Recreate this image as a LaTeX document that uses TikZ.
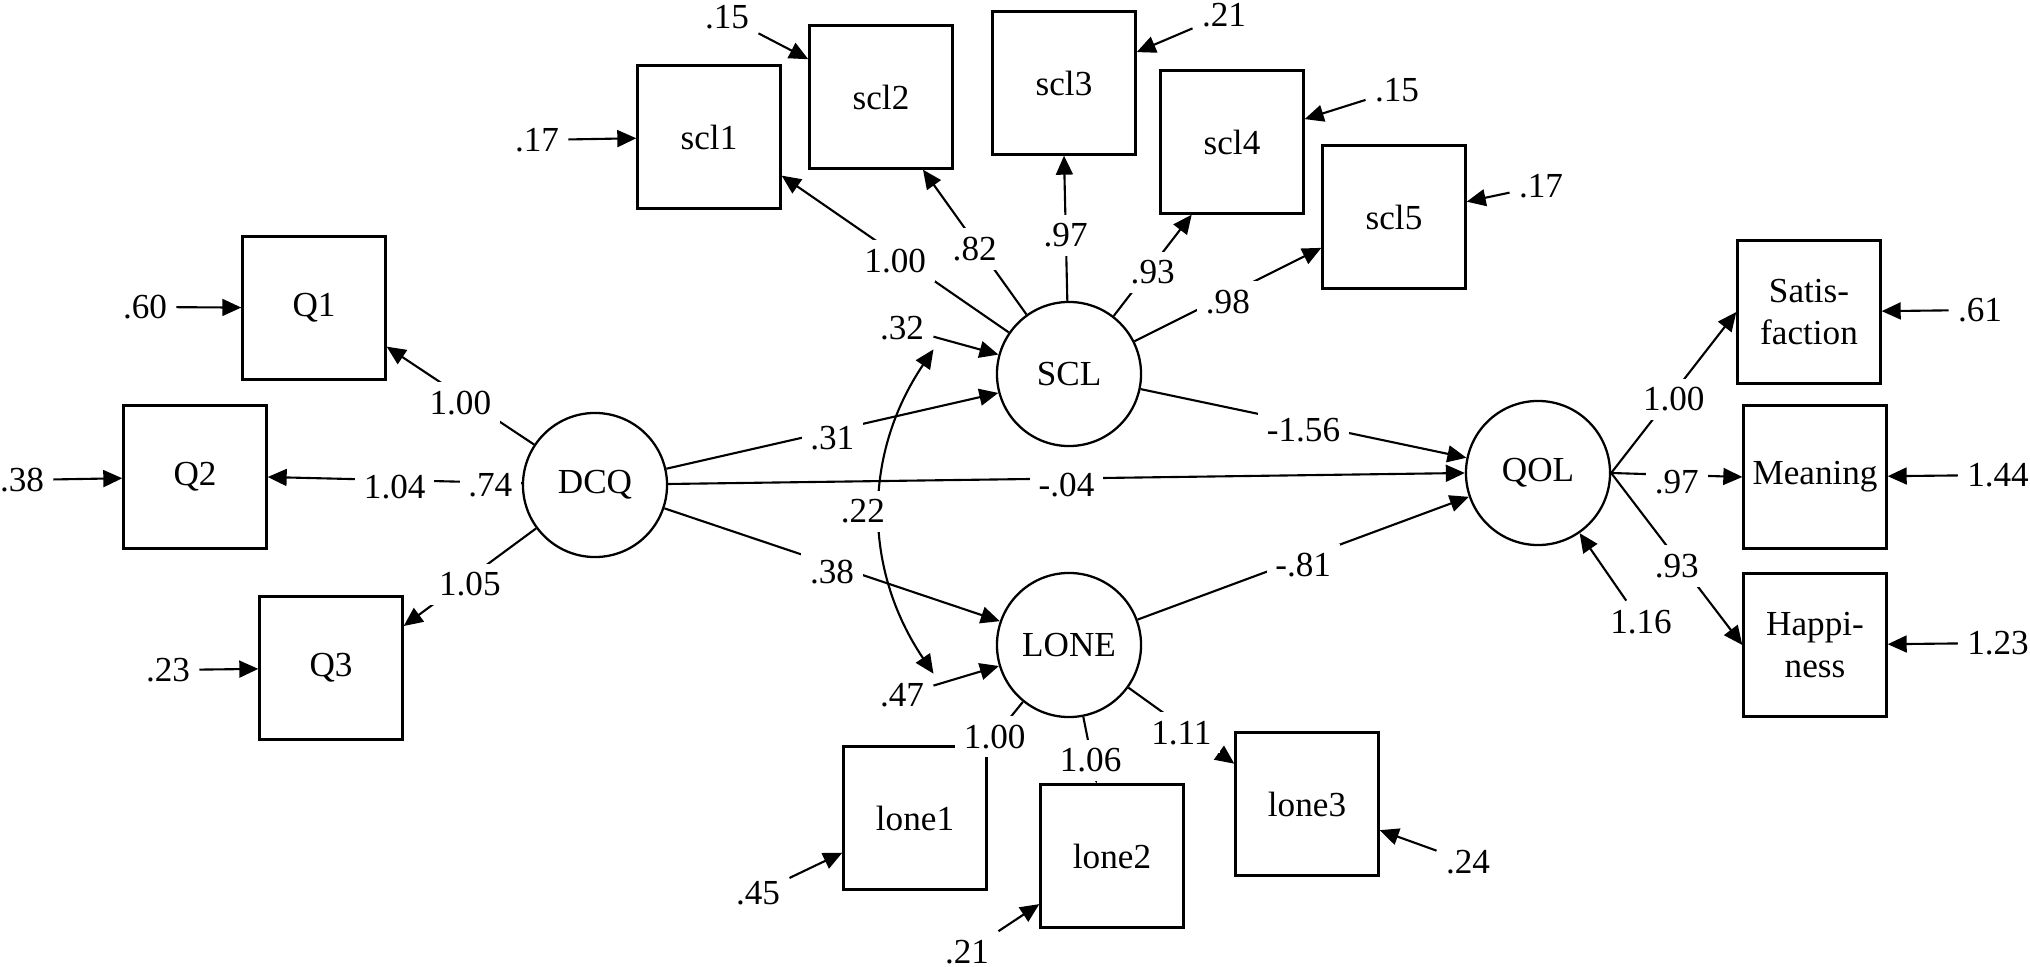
\documentclass[tikz,border=0pt]{standalone}
\usepackage{fontspec}
\setmainfont{Liberation Serif}
\usetikzlibrary{arrows.meta,positioning,calc}
\tikzset{
  obs/.style={draw=black, line width=0.65pt, minimum width=1.43cm, minimum height=1.43cm, inner sep=1pt, align=center},
  lat/.style={draw=black, circle, line width=0.65pt, minimum size=1.44cm, inner sep=0pt},
  lbl/.style={fill=white, inner sep=2.5pt},
  ld/.style={lbl, yshift=-2pt},
  arrow/.style={-{Triangle[length=5.4pt,width=4.8pt]}, line width=0.6pt},
  covarrow/.style={{Triangle[length=5.4pt,width=4.8pt]}-{Triangle[length=5.4pt,width=4.8pt]}, line width=0.6pt},
}

\begin{document}
\begin{tikzpicture}[x=0.01cm,y=-0.01cm,font=\fontsize{10}{12}\selectfont]
  \useasboundingbox (0,0) rectangle (2030,967);
  \node[lat] (DCQ) at (595,485) {DCQ};
  \node[lat] (SCL) at (1069,374) {SCL};
  \node[lat] (LONE) at (1069,645) {LONE};
  \node[lat] (QOL) at (1538,473) {QOL};
  \node[obs] (Q1) at (314,308) {Q1};
  \node[obs] (Q2) at (195,477) {Q2};
  \node[obs] (Q3) at (331,668) {Q3};
  \node[obs] (scl1) at (709,137) {scl1};
  \node[obs] (scl2) at (881,97) {scl2};
  \node[obs] (scl3) at (1064,83) {scl3};
  \node[obs] (scl4) at (1232,142) {scl4};
  \node[obs] (scl5) at (1394,217) {scl5};
  \node[obs] (lone1) at (915,818) {lone1};
  \node[obs] (lone2) at (1112,856) {lone2};
  \node[obs] (lone3) at (1307,804) {lone3};
  \node[obs] (Satis) at (1809,312) {Satis-\\faction};
  \node[obs] (Mean) at (1815,477) {Meaning};
  \node[obs] (Happy) at (1815,645) {Happi-\\ness};

  \foreach \val/\tgt/\x/\y in {.60/Q1/145/307, .38/Q2/22/480, .23/Q3/168/670,
      .17/scl1/537/140, .15/scl2/727/17, .21/scl3/1224/15, .15/scl4/1397/90,
      .17/scl5/1541/186, .32/SCL/902/328, .47/LONE/902/695, .45/lone1/758/893,
      .21/lone2/967/952, .24/lone3/1468/862, 1.16/QOL/1641/622,
      .61/Satis/1980/310, 1.44/Mean/1998/475, 1.23/Happy/1998/643}{
    \node[lbl] (e\tgt) at (\x,\y) {\val};
    \draw[arrow] (e\tgt) -- (\tgt);
  }

  \draw[arrow] (DCQ) -- node[ld]{1.00} (Q1.-28);
  \draw[arrow] (DCQ) -- node[ld]{1.04} (Q2.east);
  \draw[arrow] (DCQ) -- node[ld]{1.05} (Q3.30);
  \foreach \tgt/\w in {scl1.-28/1.00, scl2.-60/.82, scl3.south/.97, scl4.-119/.93, scl5.-157/.98}
    \draw[arrow] (SCL) -- node[ld]{\w} (\tgt);
  \draw[arrow] (DCQ) -- node[ld]{.31} (SCL.-165);
  \draw[arrow] (DCQ) -- node[ld]{-.04} (QOL.west);
  \draw[arrow] (DCQ) -- node[ld]{.38} (LONE.161);
  \draw[arrow] (SCL) -- node[ld]{-1.56} (QOL.168);
  \draw[arrow] (LONE) -- node[ld]{-.81} (QOL.-161);
  \draw[arrow] (LONE) -- node[lbl, pos=0.8]{1.00} (lone1.north east);
  \draw[arrow] (LONE) -- node[ld, pos=0.55]{1.06} (lone2.102);
  \draw[arrow] (LONE) -- node[ld]{1.11} (lone3.151);
  \draw[arrow] (QOL.east) -- node[ld]{1.00} (Satis.west);
  \draw[arrow] (QOL.east) -- node[ld]{.97} (Mean.west);
  \draw[arrow] (QOL.east) -- node[ld]{.93} (Happy.west);
  \draw[covarrow] (eSCL.south east) to[bend right=34] node[lbl, xshift=-5pt]{.22} (eLONE.north east);
  \node[lbl, left=0pt of DCQ] (vDCQ) {.74};
\end{tikzpicture}
\end{document}
